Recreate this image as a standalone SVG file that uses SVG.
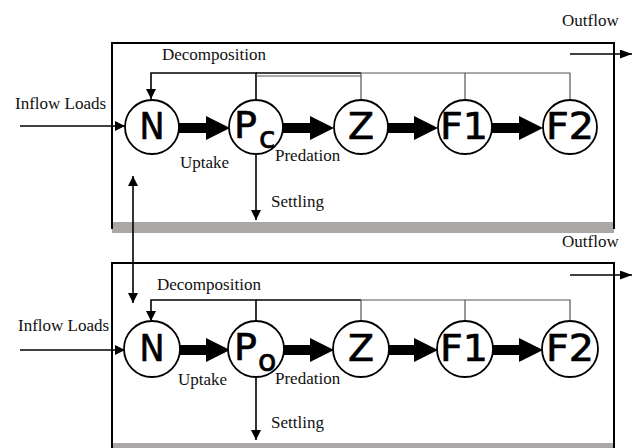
<svg xmlns="http://www.w3.org/2000/svg" width="640" height="448" viewBox="0 0 640 448">
<defs>
<marker id="ah" markerWidth="10" markerHeight="10" refX="10" refY="5" orient="auto-start-reverse" markerUnits="userSpaceOnUse" viewBox="0 0 10 10">
<path d="M0,0 L10,5 L0,10 Z" fill="#000"/>
</marker>
<marker id="ahs" markerWidth="12" markerHeight="9" refX="12" refY="4.5" orient="auto-start-reverse" markerUnits="userSpaceOnUse" viewBox="0 0 12 9">
<path d="M0,0 L12,4.5 L0,9 Z" fill="#000"/>
</marker>
</defs>
<style>
.lbl{font-family:"Liberation Serif","Times New Roman",serif;font-size:17px;fill:#111}
.sym{font-family:"DejaVu Sans",sans-serif;font-size:38px;fill:#000;stroke:#000;stroke-width:0.7;text-anchor:middle}
.pc{text-anchor:start}
.sub{font-size:30px}
.node circle{fill:#fff;stroke:#000;stroke-width:1.8}
.thin{stroke:#000;stroke-width:1.6;fill:none}
.gray{stroke:#555;stroke-width:1.2;fill:none}
.box{stroke:#000;stroke-width:2;fill:none}
.band{fill:#aba7a7}
.thick{fill:#000}
</style>
<rect width="640" height="448" fill="#fff"/>

<!-- boxes -->
<g id="box-top">
<rect class="band" x="112" y="222" width="502" height="11"/>
<path class="box" d="M112,229 V43 H614 V229"/>
</g>
<g id="box-bottom">
<rect class="band" x="112" y="443" width="502" height="5"/>
<path class="box" d="M112,448 V263 H614 V448"/>
</g>

<!-- connectors -->
<g id="connectors">
<!-- top system -->
<path class="thin" d="M256,99 V73 H151 V99" marker-end="url(#ah)"/>
<path class="thin" d="M256,73 H361"/>
<path class="gray" d="M256,76 H361"/>
<path class="gray" d="M361,99 V73 H570 V99"/>
<path class="gray" d="M465,99 V73"/>
<line class="thin" x1="20" y1="126" x2="125" y2="126" marker-end="url(#ah)"/>
<line class="thin" x1="256" y1="155" x2="256" y2="220" marker-end="url(#ah)"/>
<line class="thin" x1="570" y1="54" x2="632" y2="54" marker-end="url(#ahs)"/>
<path class="thick" d="M179,123 H206 V116 L230,128 L206,140 V133 H179 Z"/>
<path class="thick" d="M283,123 H310 V116 L334,128 L310,140 V133 H283 Z"/>
<path class="thick" d="M388,123 H414 V116 L438,128 L414,140 V133 H388 Z"/>
<path class="thick" d="M492,123 H519 V116 L543,128 L519,140 V133 H492 Z"/>
<!-- exchange -->
<line class="thin" x1="133" y1="176" x2="133" y2="303" marker-start="url(#ah)" marker-end="url(#ah)"/>
<!-- bottom system -->
<path class="thin" d="M256,321 V300 H151 V321" marker-end="url(#ah)"/>
<path class="thin" d="M256,300 H361"/>
<path class="gray" d="M361,321 V300 H570 V321"/>
<path class="gray" d="M465,321 V300"/>
<line class="thin" x1="20" y1="350" x2="125" y2="350" marker-end="url(#ah)"/>
<line class="thin" x1="256" y1="378" x2="256" y2="440" marker-end="url(#ah)"/>
<line class="thin" x1="570" y1="275" x2="632" y2="275" marker-end="url(#ahs)"/>
<path class="thick" d="M179,345 H206 V338 L230,350 L206,362 V355 H179 Z"/>
<path class="thick" d="M283,345 H310 V338 L334,350 L310,362 V355 H283 Z"/>
<path class="thick" d="M388,345 H414 V338 L438,350 L414,362 V355 H388 Z"/>
<path class="thick" d="M492,345 H519 V338 L543,350 L519,362 V355 H492 Z"/>
</g>

<!-- top nodes -->
<g id="N-top" class="node"><circle cx="152" cy="127" r="27"/><text class="sym" x="152" y="139" textLength="25" lengthAdjust="spacingAndGlyphs">N</text></g>
<g id="Pc-top" class="node"><circle cx="256" cy="127" r="27"/><text class="sym pc" x="234" y="138">P<tspan class="sub" dx="2" dy="10">c</tspan></text></g>
<g id="Z-top" class="node"><circle cx="361" cy="127" r="27"/><text class="sym" x="361" y="139" textLength="26" lengthAdjust="spacingAndGlyphs">Z</text></g>
<g id="F1-top" class="node"><circle cx="465" cy="127" r="27"/><text class="sym" x="464" y="139" textLength="48" lengthAdjust="spacingAndGlyphs">F1</text></g>
<g id="F2-top" class="node"><circle cx="570" cy="127" r="27"/><text class="sym" x="570" y="139" textLength="48" lengthAdjust="spacingAndGlyphs">F2</text></g>

<!-- bottom nodes -->
<g id="N-bottom" class="node"><circle cx="152" cy="349" r="28"/><text class="sym" x="152" y="361" textLength="25" lengthAdjust="spacingAndGlyphs">N</text></g>
<g id="Po-bottom" class="node"><circle cx="256" cy="349" r="28"/><text class="sym pc" x="234" y="360">P<tspan class="sub" dx="1" dy="11">o</tspan></text></g>
<g id="Z-bottom" class="node"><circle cx="361" cy="349" r="28"/><text class="sym" x="361" y="361" textLength="26" lengthAdjust="spacingAndGlyphs">Z</text></g>
<g id="F1-bottom" class="node"><circle cx="465" cy="349" r="28"/><text class="sym" x="464" y="361" textLength="48" lengthAdjust="spacingAndGlyphs">F1</text></g>
<g id="F2-bottom" class="node"><circle cx="570" cy="349" r="28"/><text class="sym" x="570" y="361" textLength="48" lengthAdjust="spacingAndGlyphs">F2</text></g>

<!-- labels -->
<g id="labels">
<text class="lbl" x="562" y="26">Outflow</text>
<text class="lbl" x="162" y="60">Decomposition</text>
<text class="lbl" x="15" y="109">Inflow Loads</text>
<text class="lbl" x="180" y="168">Uptake</text>
<text class="lbl" x="275" y="161">Predation</text>
<text class="lbl" x="271" y="207">Settling</text>
<text class="lbl" x="562" y="247">Outflow</text>
<text class="lbl" x="157" y="290">Decomposition</text>
<text class="lbl" x="18" y="331">Inflow Loads</text>
<text class="lbl" x="178" y="385">Uptake</text>
<text class="lbl" x="275" y="384">Predation</text>
<text class="lbl" x="271" y="428">Settling</text>
</g>
</svg>
